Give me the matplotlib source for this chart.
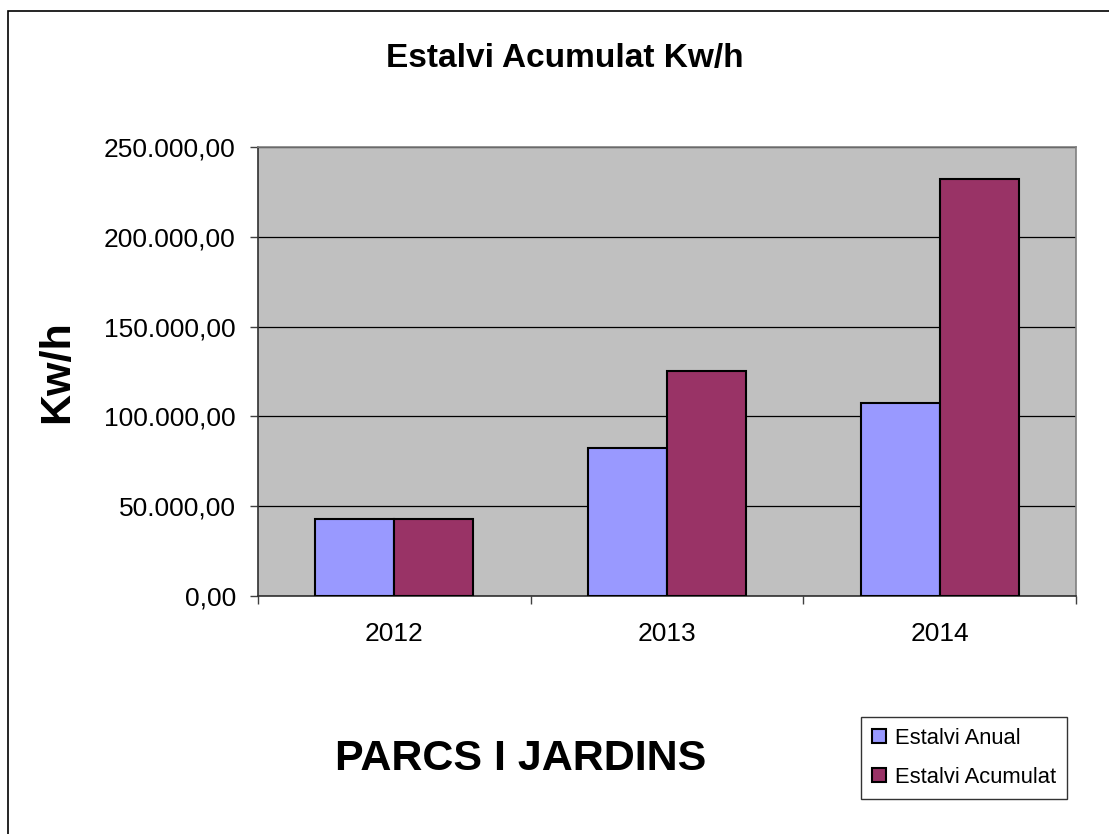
import numpy as np
import matplotlib
matplotlib.use("Agg")
import matplotlib.pyplot as plt
from matplotlib.ticker import FuncFormatter, FixedLocator
from matplotlib.patches import Rectangle

plt.rcParams['font.family'] = ['Liberation Sans', 'DejaVu Sans']

# data
years = ['2012', '2013', '2014']
estalvi_anual = [42700, 82500, 107200]
estalvi_acumulat = [42700, 125200, 232400]
series_names = ['Estalvi Anual', 'Estalvi Acumulat']
yticks = [0, 50000, 100000, 150000, 200000, 250000]

W, H = 1109, 834
fig = plt.figure(figsize=(W / 100, H / 100), dpi=100)

# chart area border (only left/top visible in the crop)
fig.patches.append(Rectangle((8 / W, -0.1), 1.2, 1 - 11 / H + 0.1,
                             transform=fig.transFigure, fill=False,
                             edgecolor='black', linewidth=1.2))

ax = fig.add_axes([258 / W, 1 - 596 / H, (1076 - 258) / W, (596 - 147) / H])
ax.set_facecolor('#C0C0C0')

x = np.arange(len(years))
bw = 0.29
ax.bar(x - bw / 2, estalvi_anual, bw, color='#9999FF', edgecolor='black',
       linewidth=1.5, label=series_names[0], zorder=3)
ax.bar(x + bw / 2, estalvi_acumulat, bw, color='#993366', edgecolor='black',
       linewidth=1.5, label=series_names[1], zorder=3)

ax.set_xlim(-0.5, len(years) - 0.5)
ax.set_ylim(0, 250000)
ax.set_yticks(yticks)
ax.yaxis.set_major_formatter(FuncFormatter(
    lambda v, p: f"{v:,.2f}".replace(',', 'X').replace('.', ',').replace('X', '.')))
ax.yaxis.grid(True, color='black', linewidth=0.9, zorder=1)
ax.set_axisbelow(True)

ax.set_xticks(x)
ax.set_xticklabels(years)
ax.xaxis.set_minor_locator(FixedLocator(np.arange(-0.5, len(years), 1.0)))
ax.tick_params(axis='x', which='major', length=0, pad=19, labelsize=19)
ax.tick_params(axis='x', which='minor', length=6, width=1, color='#404040', direction='out')
ax.tick_params(axis='y', length=6, width=1, color='#404040', pad=10, labelsize=19)

for s in ['top', 'right']:
    ax.spines[s].set_color('#808080')
    ax.spines[s].set_linewidth(1.2)
for s in ['left', 'bottom']:
    ax.spines[s].set_color('#303030')
    ax.spines[s].set_linewidth(1.2)

fig.text(565 / W, 1 - 59 / H, 'Estalvi Acumulat Kw/h', ha='center', va='center',
         fontsize=24, fontweight='bold')
fig.text(57 / W, 1 - 372 / H, 'Kw/h', ha='center', va='center', rotation=90,
         fontsize=31, fontweight='bold')
fig.text(521 / W, 1 - 759 / H, 'PARCS I JARDINS', ha='center', va='center',
         fontsize=31, fontweight='bold')

leg = fig.legend(loc='upper left', bbox_to_anchor=(861 / W, 1 - 717 / H),
                 fontsize=15.8, frameon=True, fancybox=False, shadow=False,
                 handlelength=0.62, handleheight=0.62, handletextpad=0.42,
                 labelspacing=0.8, borderpad=0.5, borderaxespad=0)
leg.get_frame().set_edgecolor('black')
leg.get_frame().set_linewidth(1.0)

fig.savefig('out.png', dpi=100)
